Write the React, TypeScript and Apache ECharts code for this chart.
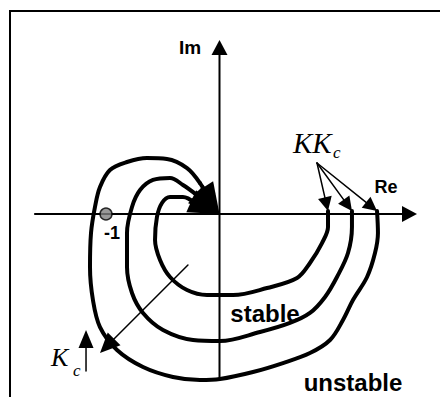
import React, { useEffect, useRef } from "react";
import * as echarts from "echarts";

const W = 440;
const H = 397;
const OX = 219.5;
const OY = 214;
const UNIT = 113.5;

const outerCurve = [
  [1.388, 0.026], [1.396, -0.167], [1.37, -0.344], [1.3, -0.555], [1.176, -0.758],
  [1.088, -0.934], [0.974, -1.11], [0.797, -1.225], [0.559, -1.313], [0.295, -1.392],
  [0.004, -1.454], [-0.172, -1.463], [-0.41, -1.436], [-0.674, -1.348], [-0.903, -1.198],
  [-1.053, -0.996], [-1.115, -0.758], [-1.141, -0.467], [-1.132, -0.167], [-1.097, 0.062],
  [-1.053, 0.238], [-0.965, 0.388], [-0.815, 0.458], [-0.639, 0.493], [-0.463, 0.485],
  [-0.286, 0.405], [-0.172, 0.273],
];
const middleCurve = [
  [1.167, 0.026], [1.167, -0.115], [1.132, -0.344], [1.035, -0.555], [0.93, -0.731],
  [0.797, -0.872], [0.621, -0.96], [0.357, -1.04], [0.004, -1.119], [-0.233, -1.11],
  [-0.498, -1.022], [-0.674, -0.872], [-0.771, -0.696], [-0.815, -0.467], [-0.815, -0.167],
  [-0.771, 0.062], [-0.7, 0.211], [-0.586, 0.3], [-0.436, 0.317], [-0.322, 0.256],
  [-0.198, 0.167],
];
const innerCurve = [
  [0.956, 0.026], [0.956, -0.115], [0.903, -0.256], [0.797, -0.432], [0.683, -0.564],
  [0.419, -0.652], [0.119, -0.714], [-0.11, -0.714], [-0.286, -0.67], [-0.436, -0.555],
  [-0.524, -0.405], [-0.568, -0.229], [-0.551, -0.026], [-0.507, 0.097], [-0.436, 0.15],
  [-0.322, 0.15], [-0.216, 0.097],
];
const criticalPoint = [[-1, 0]];
const axisArrows = [
  [-1.626, 0, 1.74, 0],
  [0, -1.462, 0, 1.533],
];
const curveHeads = [
  [-0.172, 0.273, 0, 0],
  [-0.198, 0.167, 0, 0],
  [-0.216, 0.097, 0, 0],
];
const gainArrows = [
  [0.859, 0.449, 0.956, 0.026],
  [0.859, 0.449, 1.167, 0.026],
  [0.859, 0.449, 1.388, 0.026],
];
const kcUpArrow = [[-1.176, -1.383, -1.176, -1.022]];
const kcDiagArrow = [[-0.278, -0.449, -1.053, -1.225]];

const SANS = "'Liberation Sans', Arial, Helvetica, sans-serif";
const SERIF = "'Liberation Serif', 'Times New Roman', serif";

function arrowSeries(name: string, data: number[][], lw: number, headLen: number, headHalf: number) {
  return {
    type: "custom",
    name,
    data,
    silent: true,
    clip: false,
    encode: { x: [0, 2], y: [1, 3] },
    renderItem: (_params: any, api: any) => {
      const a = api.coord([api.value(0), api.value(1)]);
      const b = api.coord([api.value(2), api.value(3)]);
      const dx = b[0] - a[0];
      const dy = b[1] - a[1];
      const len = Math.hypot(dx, dy) || 1;
      const ux = dx / len;
      const uy = dy / len;
      const bx = b[0] - ux * headLen;
      const by = b[1] - uy * headLen;
      const px = -uy * headHalf;
      const py = ux * headHalf;
      return {
        type: "group",
        children: [
          {
            type: "line",
            shape: { x1: a[0], y1: a[1], x2: bx + ux * 2, y2: by + uy * 2 },
            style: { stroke: "#000", lineWidth: lw, lineCap: "round" },
          },
          {
            type: "polygon",
            shape: { points: [[b[0], b[1]], [bx + px, by + py], [bx - px, by - py]] },
            style: { fill: "#000" },
          },
        ],
      };
    },
  };
}

function curveSeries(name: string, data: number[][]) {
  return {
    type: "line",
    name,
    data,
    smooth: 0.35,
    symbol: "none",
    showSymbol: false,
    silent: true,
    clip: false,
    lineStyle: { color: "#000", width: 4, cap: "round", join: "round" },
  };
}

function text(t: string, x: number, y: number, font: string, align = "center") {
  return {
    type: "text",
    x,
    y,
    silent: true,
    style: { text: t, font, fill: "#000", align, verticalAlign: "middle" },
  };
}

export default function App() {
  const ref = useRef<HTMLDivElement>(null);
  useEffect(() => {
    document.body.style.margin = "0";
    if (!ref.current) return;
    const chart = echarts.init(ref.current, undefined, { renderer: "svg" });
    chart.setOption({
      animation: false,
      backgroundColor: "#fff",
      grid: { left: 0, right: 0, top: 0, bottom: 0, containLabel: false },
      xAxis: { type: "value", min: -OX / UNIT, max: (W - OX) / UNIT, show: false },
      yAxis: { type: "value", min: (OY - H) / UNIT, max: OY / UNIT, show: false },
      series: [
        arrowSeries("axes", axisArrows, 2, 15, 8),
        curveSeries("outer", outerCurve),
        curveSeries("middle", middleCurve),
        curveSeries("inner", innerCurve),
        arrowSeries("curveHeads", curveHeads, 4, 31, 12),
        arrowSeries("gainArrows", gainArrows, 1.5, 14, 7),
        arrowSeries("kcUp", kcUpArrow, 1.5, 18, 7.5),
        arrowSeries("kcDiag", kcDiagArrow, 1.5, 20, 9),
        {
          type: "scatter",
          name: "-1",
          data: criticalPoint,
          symbol: "circle",
          symbolSize: 12,
          silent: true,
          itemStyle: { color: "#808080", borderColor: "#000", borderWidth: 1.5 },
        },
      ],
      graphic: [
        {
          type: "polyline",
          silent: true,
          shape: { points: [[10, H], [10, 11], [W, 11]] },
          style: { stroke: "#000", lineWidth: 2, fill: "none" },
        },
        text("Im", 190, 47, `bold 19px ${SANS}`),
        text("Re", 386, 187, `bold 18px ${SANS}`),
        text("-1", 112, 233, `bold 18px ${SANS}`),
        text("stable", 265, 313, `bold 24px ${SANS}`),
        text("unstable", 353, 382, `bold 24px ${SANS}`),
        text("KK", 293, 143, `italic 29px ${SERIF}`, "left"),
        text("c", 333, 152, `italic 17px ${SERIF}`, "left"),
        text("K", 51, 357, `italic 26px ${SERIF}`, "left"),
        text("c", 73, 370, `italic 17px ${SERIF}`, "left"),
      ],
    });
    return () => chart.dispose();
  }, []);
  return <div ref={ref} style={{ width: W, height: H }} />;
}
